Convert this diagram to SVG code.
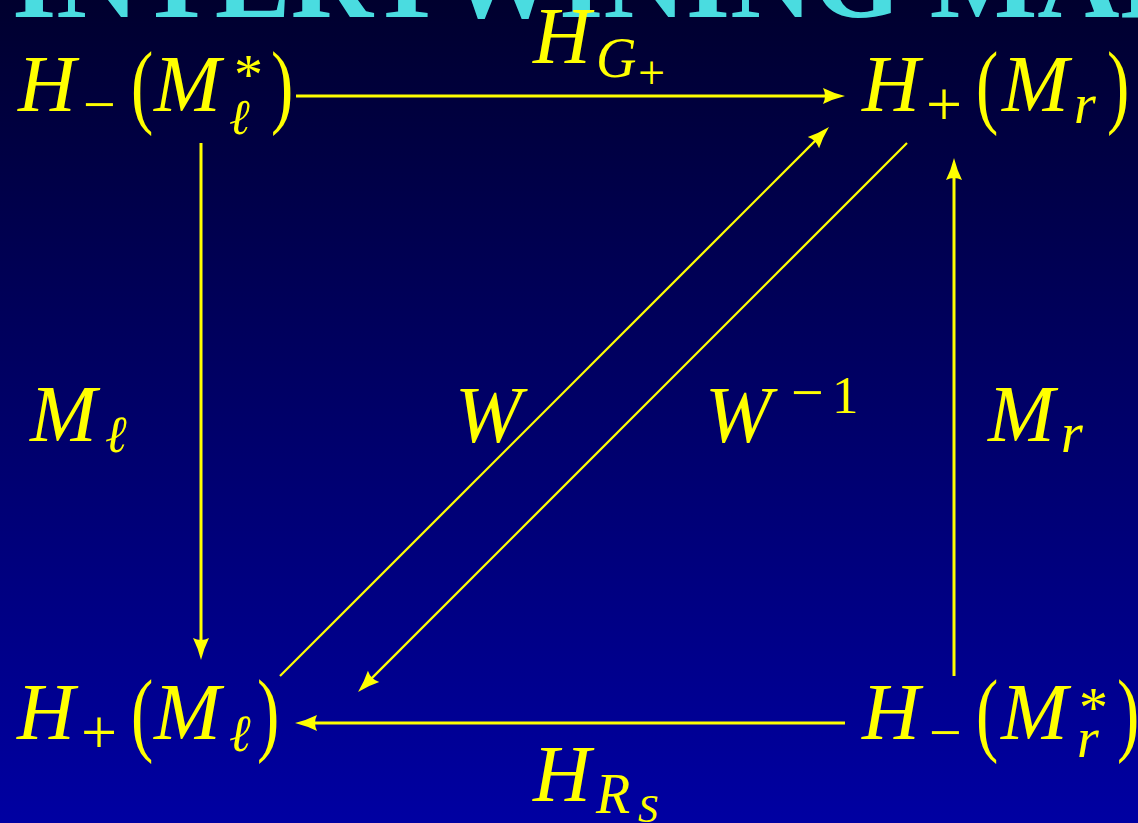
<svg xmlns="http://www.w3.org/2000/svg" width="1138" height="823" viewBox="0 0 1138 823">
<defs>
<linearGradient id="bg" x1="0" y1="0" x2="0" y2="1">
<stop offset="0" stop-color="#00002E"/>
<stop offset="1" stop-color="#0000A2"/>
</linearGradient>
<marker id="ah" viewBox="-24 -10 26 20" refX="-10" refY="0" markerWidth="26" markerHeight="20" markerUnits="userSpaceOnUse" orient="auto">
<path d="M0,0 Q-12,-3 -22,-8 Q-18,0 -22,8 Q-12,3 0,0 Z" fill="#FFFF00"/>
</marker>
<style>
text{font-family:"Liberation Serif","Times New Roman",serif}
.t{fill:#FFFF00}
.i{font-style:italic}
.big{font-size:80px}
.par{font-size:93px}
.title{font-weight:bold;font-size:114px;fill:#4ADCE0}
.hv{stroke:#FFFF00;stroke-width:3;fill:none;marker-end:url(#ah)}
.dg{stroke:#FFFF00;stroke-width:2.2;fill:none;marker-end:url(#ah)}
</style>
</defs>
<rect width="1138" height="823" fill="url(#bg)"/>
<text class="title" x="12" y="17">INTERTWINING MAPS</text>

<g id="connectors">
<line class="hv" x1="296" y1="96" x2="835" y2="96"/>
<line class="hv" x1="201" y1="143" x2="201" y2="650"/>
<line class="hv" x1="954" y1="676" x2="954" y2="168"/>
<line class="hv" x1="845" y1="723" x2="305" y2="723"/>
<line class="dg" x1="280" y1="676" x2="821.9" y2="134.1"/>
<line class="dg" x1="907" y1="143" x2="365.1" y2="684.9"/>
</g>

<g id="n-hminus-ml" class="t">
<text class="i big" x="18" y="111">H</text>
<text x="83" y="124" font-size="58">−</text>
<text class="par" transform="translate(131,115.5) scale(0.72,1)">(</text>
<text class="i big" x="154" y="111">M</text>
<text x="234" y="94" font-size="58">*</text>
<text class="i" x="229" y="134" font-size="50">ℓ</text>
<text class="par" transform="translate(271,115.5) scale(0.72,1)">)</text>
</g>

<g id="n-hplus-mr" class="t">
<text class="i big" x="862" y="111">H</text>
<text x="926" y="126" font-size="64">+</text>
<text class="par" transform="translate(976,115.5) scale(0.72,1)">(</text>
<text class="i big" x="1002" y="111">M</text>
<text class="i" x="1074" y="123" font-size="56">r</text>
<text class="par" transform="translate(1107,115.5) scale(0.72,1)">)</text>
</g>

<g id="n-hplus-ml" class="t">
<text class="i big" x="17" y="739">H</text>
<text x="81" y="754" font-size="64">+</text>
<text class="par" transform="translate(131,743.5) scale(0.72,1)">(</text>
<text class="i big" x="154" y="739">M</text>
<text class="i" x="229" y="751" font-size="52">ℓ</text>
<text class="par" transform="translate(257,743.5) scale(0.72,1)">)</text>
</g>

<g id="n-hminus-mr" class="t">
<text class="i big" x="862" y="739">H</text>
<text x="929" y="752" font-size="58">−</text>
<text class="par" transform="translate(976,743.5) scale(0.72,1)">(</text>
<text class="i big" x="1001" y="739">M</text>
<text x="1079" y="727" font-size="58">*</text>
<text class="i" x="1077" y="757" font-size="56">r</text>
<text class="par" transform="translate(1117,743.5) scale(0.72,1)">)</text>
</g>

<g id="labels" class="t">
<text class="i big" x="533" y="63">H</text>
<text class="i" x="596" y="77" font-size="56">G</text>
<text x="638" y="89" font-size="48">+</text>

<text class="i big" x="533" y="801">H</text>
<text class="i" x="596" y="813" font-size="56">R</text>
<text class="i" x="638" y="822" font-size="40">S</text>

<text class="i big" x="30" y="441">M</text>
<text class="i" x="105" y="452" font-size="52">ℓ</text>

<text class="i big" x="455" y="442">W</text>

<text class="i big" x="705" y="442">W</text>
<text x="791" y="412" font-size="58">−</text>
<text x="832" y="413" font-size="53">1</text>

<text class="i big" x="988" y="441">M</text>
<text class="i" x="1061" y="452" font-size="56">r</text>
</g>
</svg>
